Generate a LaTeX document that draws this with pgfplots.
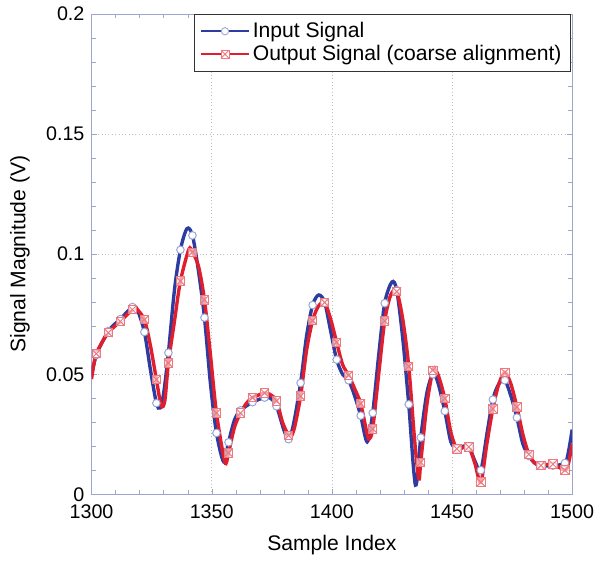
\documentclass[border=0pt]{standalone}
\usepackage{fontspec}
\setmainfont{Liberation Sans}
\usepackage{pgfplots}
\usepackage{pgfplotstable}
\pgfplotsset{compat=1.18}

\definecolor{inblue}{RGB}{45,60,160}
\definecolor{outred}{RGB}{225,30,45}
\definecolor{inmark}{RGB}{150,165,215}
\definecolor{outmark}{RGB}{238,120,125}
\definecolor{axcol}{RGB}{160,165,205}

% square with a cross
\pgfdeclareplotmark{boxx}{%
  \pgfpathrectangle{\pgfpoint{-\pgfplotmarksize}{-\pgfplotmarksize}}{\pgfpoint{2\pgfplotmarksize}{2\pgfplotmarksize}}%
  \pgfusepathqfillstroke
  \pgfpathmoveto{\pgfpoint{-\pgfplotmarksize}{-\pgfplotmarksize}}%
  \pgfpathlineto{\pgfpoint{\pgfplotmarksize}{\pgfplotmarksize}}%
  \pgfpathmoveto{\pgfpoint{-\pgfplotmarksize}{\pgfplotmarksize}}%
  \pgfpathlineto{\pgfpoint{\pgfplotmarksize}{-\pgfplotmarksize}}%
  \pgfusepathqstroke
}

\pgfplotstableread{
x y
1300 0.049
1302 0.058
1307 0.068
1312 0.073
1317 0.078
1319 0.077
1322 0.0676
1324.5 0.052
1327 0.038
1328.5 0.036
1330 0.042
1332 0.059
1334.5 0.085
1337 0.1018
1339.7 0.1106
1342 0.1078
1344.5 0.093
1347 0.0736
1349.5 0.046
1352 0.0256
1355 0.0136
1357 0.0217
1359.5 0.031
1362 0.035
1367 0.0384
1372 0.0403
1374.5 0.040
1377 0.0367
1380 0.027
1382 0.023
1384 0.029
1387 0.0464
1389.5 0.066
1392 0.0788
1394.5 0.083
1397 0.080
1399.5 0.068
1402 0.0561
1404.5 0.050
1407 0.0475
1409.5 0.041
1412 0.0328
1414.7 0.0219
1417 0.0339
1419.5 0.058
1422 0.0796
1425 0.0884
1427 0.085
1429.5 0.065
1432 0.0375
1434.8 0.0039
1437 0.0237
1439.5 0.042
1442 0.050
1444 0.047
1447 0.0347
1449.5 0.022
1452 0.019
1454.5 0.020
1457 0.020
1459.5 0.014
1462 0.0101
1464.5 0.025
1467 0.0395
1469.5 0.046
1472 0.0475
1474.5 0.041
1477 0.032
1479.5 0.021
1482 0.016
1484.5 0.013
1487 0.012
1492 0.012
1497 0.0131
1498.5 0.018
1500 0.027
}\inline

\pgfplotstableread{
x y
1300 0.048
1302 0.0586
1307 0.0673
1312 0.0720
1317 0.0769
1318.5 0.0775
1322 0.0727
1324.5 0.062
1327 0.0478
1329 0.037
1330.5 0.039
1332 0.0547
1334.5 0.072
1337 0.0888
1340.5 0.1020
1342 0.1008
1344.5 0.095
1347 0.0810
1349.5 0.058
1352 0.0339
1355.5 0.0135
1357 0.0173
1359.5 0.028
1362 0.0339
1364.5 0.038
1367 0.0403
1372 0.0422
1374 0.0418
1377 0.0389
1379.5 0.030
1382 0.0245
1383 0.024
1384.5 0.028
1387 0.0409
1389.5 0.060
1392 0.0724
1394.5 0.0785
1397 0.0799
1399.5 0.073
1402 0.0633
1404.5 0.054
1407 0.0496
1409.5 0.044
1412 0.0378
1414.5 0.026
1415.5 0.023
1417 0.0273
1419.5 0.050
1422 0.0722
1424.5 0.083
1427 0.0844
1429.5 0.073
1432 0.0533
1434.5 0.022
1436.2 0.0065
1437 0.0134
1439.5 0.037
1442 0.0517
1443 0.052
1444.5 0.049
1447 0.0399
1449.5 0.026
1452 0.019
1454.5 0.0195
1457 0.0198
1459.5 0.013
1462 0.0051
1464.5 0.021
1467 0.0356
1469.5 0.046
1472 0.0508
1474.5 0.046
1477 0.0364
1479.5 0.025
1482 0.0167
1484.5 0.013
1487 0.0121
1492 0.0126
1497 0.0101
1498.5 0.013
1500 0.021
}\outline

\pgfplotstableread{
x y
1302 0.058
1307 0.068
1312 0.073
1317 0.078
1322 0.0676
1327 0.038
1332 0.059
1337 0.1018
1342 0.1078
1347 0.0736
1352 0.0256
1357 0.0217
1362 0.035
1367 0.0384
1372 0.0403
1377 0.0367
1382 0.023
1387 0.0464
1392 0.0788
1397 0.080
1402 0.0561
1407 0.0475
1412 0.0328
1417 0.0339
1422 0.0796
1427 0.085
1432 0.0375
1437 0.0237
1442 0.050
1447 0.0347
1452 0.019
1457 0.020
1462 0.0101
1467 0.0395
1472 0.0475
1477 0.032
1482 0.016
1487 0.012
1492 0.012
1497 0.0131
}\inmarks

\pgfplotstableread{
x y
1302 0.0586
1307 0.0673
1312 0.0720
1317 0.0769
1322 0.0727
1327 0.0478
1332 0.0547
1337 0.0888
1342 0.1008
1347 0.0810
1352 0.0339
1357 0.0173
1362 0.0339
1367 0.0403
1372 0.0422
1377 0.0389
1382 0.0245
1387 0.0409
1392 0.0724
1397 0.0799
1402 0.0633
1407 0.0496
1412 0.0378
1417 0.0273
1422 0.0722
1427 0.0844
1432 0.0533
1437 0.0134
1442 0.0517
1447 0.0399
1452 0.019
1457 0.0198
1462 0.0051
1467 0.0356
1472 0.0508
1477 0.0364
1482 0.0167
1487 0.0121
1492 0.0126
1497 0.0101
}\outmarks

\begin{document}
\begin{tikzpicture}
\begin{axis}[
    scale only axis,
    width=12cm, height=12cm,
    xmin=1300, xmax=1500,
    ymin=0, ymax=0.2,
    xtick={1300,1350,...,1500},
    ytick={0,0.05,0.1,0.15,0.2},
    yticklabels={0,0.05,0.1,0.15,0.2},
    minor x tick num=4,
    minor y tick num=4,
    xlabel={Sample Index},
    ylabel={Signal Magnitude (V)},
    xlabel style={at={(axis description cs:0.5,-0.106)}, anchor=center},
    ylabel style={at={(axis description cs:-0.149,0.5)}, anchor=center},
    label style={font=\fontsize{15}{17}\selectfont},
    tick label style={font=\fontsize{14}{16}\selectfont},
    xticklabel style={yshift=-4pt},
    yticklabel style={xshift=-1.5pt},
    /pgf/number format/assume math mode=true,
    /pgf/number format/1000 sep={},
    axis line style={axcol},
    tick style={axcol},
    major tick length=4pt,
    minor tick length=3pt,
    grid=major,
    major grid style={dotted, gray!50},
    legend style={at={(0.996,1)}, anchor=north east, draw=black!80,
        font=\fontsize{15}{17}\selectfont, inner sep=4pt, row sep=0pt},
    legend cell align=left,
    legend image code/.code={\draw[mark repeat=2,mark phase=2] plot coordinates {(0cm,0cm) (0.6cm,0cm) (1.2cm,0cm)};},
]
\addlegendimage{inblue, line width=1.4pt, mark=*, mark options={fill=white, draw=inmark, line width=0.6pt, mark size=2.6pt}}
\addlegendentry{Input Signal}
\addlegendimage{outred, line width=1.4pt, mark=boxx, mark options={fill=white, draw=outmark, line width=0.6pt, mark size=2.8pt}}
\addlegendentry{Output Signal (coarse alignment)}

\addplot[inblue, line width=2.4pt, smooth, forget plot] table {\inline};
\addplot[outred, line width=2.4pt, smooth, forget plot] table {\outline};
\addplot[only marks, mark=*, mark size=2.7pt, mark options={fill=white, draw=inmark, line width=0.7pt}, forget plot] table {\inmarks};
\addplot[only marks, mark=boxx, mark size=3pt, mark options={fill=white, fill opacity=0.6, draw=outmark, line width=0.7pt}, forget plot] table {\outmarks};
\end{axis}
% page frame with the reference's margins round the 12 cm axis
\pgfresetboundingbox
\path (-2.285cm,-1.64cm) rectangle (12.57cm,12.345cm);
\end{tikzpicture}
\end{document}
